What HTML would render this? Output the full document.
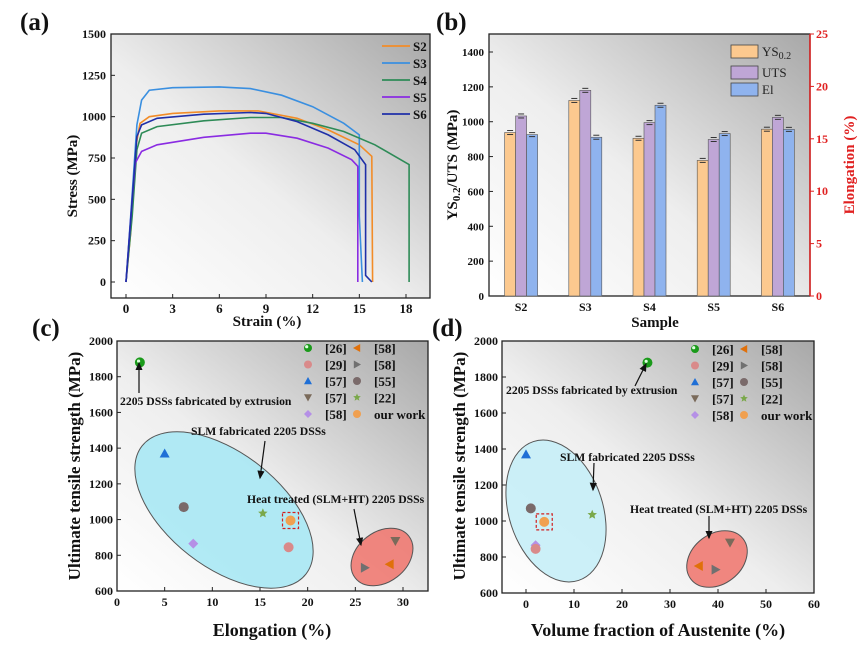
<!DOCTYPE html>
<html><head><meta charset="utf-8">
<style>
html,body{margin:0;padding:0;background:#fff;}
svg{display:block;font-family:"Liberation Serif",serif;}
</style></head>
<body>
<svg id="fig" width="861" height="646" viewBox="0 0 861 646" xmlns="http://www.w3.org/2000/svg">
<defs>
<linearGradient id="bg" x1="0" y1="1" x2="1" y2="0">
<stop offset="0" stop-color="#ffffff"/><stop offset="0.45" stop-color="#eeeeee"/><stop offset="1" stop-color="#a8a8a8"/>
</linearGradient>
<marker id="ah" markerWidth="8" markerHeight="8" refX="6" refY="4" orient="auto"><path d="M0,1 L7,4 L0,7 Z" fill="#111"/></marker>
</defs>
<g id="root"></g>
</svg>
<script>
// ---- Panel (a) data ----
const strainS2=[0,0.3,0.6,0.9,1.5,3,6,8.5,11,13,15,15.8,15.85];
const stressS2=[0,300,800,960,1000,1020,1035,1035,990,920,830,760,0];
const strainS3=[0,0.3,0.7,1,1.5,3,6,8,10,12,14,15,15,15.2];
const stressS3=[0,400,950,1100,1160,1175,1180,1170,1130,1060,960,890,400,0];
const strainS4=[0,0.4,0.7,1,2,5,8,10,12,14,16,18.2,18.2];
const stressS4=[0,400,800,900,940,975,995,995,960,910,830,710,0];
const strainS5=[0,0.4,0.6,1,2,5,8,9,11,13,14.5,14.9,14.9];
const stressS5=[0,500,720,790,830,875,900,900,870,810,740,700,0];
const strainS6=[0,0.4,0.7,1,2,5,8,9,11,13,14.7,15.4,15.4,15.8];
const stressS6=[0,500,880,950,990,1015,1025,1020,970,890,800,710,40,0];
const aTicksX=[0,3,6,9,12,15,18];
const aTicksY=[0,250,500,750,1000,1250,1500];
// ---- Panel (b) data ----
const samples=["S2","S3","S4","S5","S6"];
const ysVals=[938,1122,905,778,957];
const utsVals=[1033,1180,995,898,1025];
const elVals=[15.4,15.15,18.2,15.5,15.9];
const bTicksY=[0,200,400,600,800,1000,1200,1400];
const bTicksR=[0,5,10,15,20,25];
// ---- Panel (c)/(d) data ----
const refLabels=["[26]","[57]","[55]","[58]","[22]","our work","[29]","[58]r","[57]d","[58]l"];
const elongVals=[2.4,5,7,8,15.3,18.2,18,26,29.2,28.6];
const austVals=[25.3,0,1,2,13.8,3.8,2,39.5,42.5,36];
const utsRef=[1880,1370,1070,865,1035,995,845,730,880,750];
const cTicksX=[0,5,10,15,20,25,30];
const dTicksX=[0,10,20,30,40,50,60];
const cdTicksY=[600,800,1000,1200,1400,1600,1800,2000];

const NS="http://www.w3.org/2000/svg";
const root=document.getElementById('root');
function el(tag,attrs,parent,txt){const e=document.createElementNS(NS,tag);for(const k in attrs)e.setAttribute(k,attrs[k]);if(txt!==undefined)e.textContent=txt;(parent||root).appendChild(e);return e;}
function lin(d0,d1,r0,r1){return v=>r0+(v-d0)*(r1-r0)/(d1-d0);}

function frame(x0,y0,x1,y1,name){
  const g=el('g',{});
  
  
  el('rect',{x:x0,y:y0,width:x1-x0,height:y1-y0,fill:'url(#bg)',stroke:'#222','stroke-width':1.3},g);
  return g;
}
function txt(x,y,s,size,anchor,parent,extra){
  return el('text',Object.assign({x:x,y:y,'font-size':size,'font-weight':'bold','text-anchor':anchor||'start',fill:'#111'},extra||{}),parent,s);
}

[["(a)",20,30],["(b)",436,30],["(c)",32,336],["(d)",432,336]].forEach(p=>{
  const t=txt(p[1],p[2],p[0],25);
  
  
});

// ===== Panel (a) =====
(function(){
  const X0=111,X1=430,Y0=34,Y1=298;
  const xs=lin(0,18,126,406), ys=lin(0,1500,282,34);
  const g=frame(X0,Y0,X1,Y1,'panel-a-stress-strain');
  aTicksX.forEach(v=>{el('line',{x1:xs(v),x2:xs(v),y1:Y1,y2:Y1-4,stroke:'#222'},g);const t=txt(xs(v),313,String(v),13,'middle',g);
    });
  aTicksY.forEach(v=>{el('line',{x1:X0,x2:X0+4,y1:ys(v),y2:ys(v),stroke:'#222'},g);const t=txt(X0-5,ys(v)+4,String(v),12,'end',g);
    });
  const series=[["S2",strainS2,stressS2,"#f28c28"],["S3",strainS3,stressS3,"#3a8fe0"],["S4",strainS4,stressS4,"#2e8b57"],["S5",strainS5,stressS5,"#8a2be2"],["S6",strainS6,stressS6,"#1f2fa8"]];
  series.forEach((s,i)=>{
    const d=s[1].map((x,j)=>(j?'L':'M')+xs(x).toFixed(1)+','+ys(s[2][j]).toFixed(1)).join(' ');
    const p=el('path',{d:d,fill:'none',stroke:s[3],'stroke-width':1.6},g);
    
    
    const ly=46+i*17;
    const lg=el('g',{},g);
    
    
    el('line',{x1:382,x2:410,y1:ly,y2:ly,stroke:s[3],'stroke-width':1.8},lg);
    txt(413,ly+5,s[0],13,'start',lg);
  });
  const yt=txt(0,0,"Stress (MPa)",15,'middle',g,{transform:'translate(77,176) rotate(-90)'});
  
  const xt=txt(267,326,"Strain (%)",15,'middle',g);
  
})();

// ===== Panel (b) =====
(function(){
  const X0=489,X1=810,Y0=34,Y1=296;
  const ys=lin(0,1400,296,52), yr=lin(0,25,296,34);
  const g=frame(X0,Y0,X1,Y1,'panel-b-bar-chart');
  bTicksY.forEach(v=>{el('line',{x1:X0,x2:X0+4,y1:ys(v),y2:ys(v),stroke:'#222'},g);const t=txt(X0-5,ys(v)+4,String(v),11,'end',g);
    });
  el('line',{x1:X1,x2:X1,y1:Y0,y2:Y1,stroke:'#e02020','stroke-width':1.5},g);
  bTicksR.forEach(v=>{el('line',{x1:X1,x2:X1+4,y1:yr(v),y2:yr(v),stroke:'#e02020'},g);const t=txt(X1+6,yr(v)+4,String(v),12,'start',g,{fill:'#e02020'});
    });
  const step=(X1-X0)/5, bw=11;
  samples.forEach((s,i)=>{
    const cx=X0+(i+0.5)*step;
    const t=txt(cx,311,s,12,'middle',g);
    
    const bars=[[ys(ysVals[i]),'#fcc98f','ys'],[ys(utsVals[i]),'#bfa6d6','uts'],[yr(elVals[i]),'#8fb3ee','el']];
    bars.forEach((b,k)=>{
      const bx=cx-1.5*bw+k*bw;
      const r=el('rect',{x:bx,y:b[0],width:bw,height:Y1-b[0],fill:b[1],stroke:'#555','stroke-width':0.6},g);
      
      
      el('line',{x1:bx+bw/2-3,x2:bx+bw/2+3,y1:b[0]-2,y2:b[0]-2,stroke:'#333'},g);
      el('line',{x1:bx+bw/2-3,x2:bx+bw/2+3,y1:b[0]+2,y2:b[0]+2,stroke:'#333'},g);
    });
  });
  [["YS",'#fcc98f',45],["UTS",'#bfa6d6',66],["El",'#8fb3ee',83]].forEach((L,i)=>{
    const lg=el('g',{},g);
    
    
    el('rect',{x:731,y:L[2],width:27,height:13,fill:L[1],stroke:'#444','stroke-width':0.8},lg);
    const t=el('text',{x:762,y:L[2]+11,'font-size':13,fill:'#222'},lg,L[0]);
    if(i==0){el('tspan',{'font-size':10,dy:3},t,'0.2');}
  });
  const yt=el('text',{transform:'translate(457,165) rotate(-90)','font-size':15,'font-weight':'bold','text-anchor':'middle',fill:'#111'},g);
  
  yt.appendChild(document.createTextNode('YS'));
  el('tspan',{'font-size':11,dy:3},yt,'0.2');
  el('tspan',{dy:-3},yt,'/UTS (MPa)');
  const rt=txt(0,0,"Elongation (%)",15,'middle',g,{transform:'translate(854,165) rotate(-90)',fill:'#e02020'});
  
  const xt=txt(655,327,"Sample",15,'middle',g);
  
})();

// ===== Panels (c),(d) =====
const styles=[
 {shape:'ball',c:'#1a9a1a'},{shape:'tri',c:'#1f6fd6'},{shape:'circ',c:'#7a6a6a'},{shape:'diam',c:'#b590e6'},
 {shape:'star',c:'#7aa84a'},{shape:'circ',c:'#f0a050'},{shape:'circ',c:'#d98a8a'},{shape:'rtri',c:'#707070'},
 {shape:'dtri',c:'#7a6a5a'},{shape:'ltri',c:'#e0700a'}];
function marker(g,shape,x,y,c,s){
  s=s||5;let e;
  if(shape==='circ'||shape==='ball'){e=el('circle',{cx:x,cy:y,r:s,fill:c},g);if(shape==='ball')el('circle',{cx:x-1.3,cy:y-1.3,r:1.6,fill:'#dfffdf'},g);}
  else if(shape==='tri')e=el('path',{d:`M${x},${y-s} L${x+s},${y+s*0.8} L${x-s},${y+s*0.8}Z`,fill:c},g);
  else if(shape==='dtri')e=el('path',{d:`M${x},${y+s} L${x+s},${y-s*0.8} L${x-s},${y-s*0.8}Z`,fill:c},g);
  else if(shape==='rtri')e=el('path',{d:`M${x+s},${y} L${x-s*0.8},${y-s} L${x-s*0.8},${y+s}Z`,fill:c},g);
  else if(shape==='ltri')e=el('path',{d:`M${x-s},${y} L${x+s*0.8},${y-s} L${x+s*0.8},${y+s}Z`,fill:c},g);
  else if(shape==='diam')e=el('path',{d:`M${x},${y-s} L${x+s},${y} L${x},${y+s} L${x-s},${y}Z`,fill:c},g);
  else if(shape==='star'){let d='';for(let k=0;k<10;k++){const r=k%2?s*0.45:s;const a=-Math.PI/2+k*Math.PI/5;d+=(k?'L':'M')+(x+r*Math.cos(a)).toFixed(1)+','+(y+r*Math.sin(a)).toFixed(1);}e=el('path',{d:d+'Z',fill:c},g);}
  return e;
}
function scatterPanel(cfg){
  const g=frame(cfg.X0,341,cfg.X1,cfg.Y1,cfg.name);
  const xs=lin(cfg.d0,cfg.d1,cfg.r0,cfg.r1), ys=lin(600,2000,cfg.Y1,341);
  cfg.ticks.forEach(v=>{el('line',{x1:xs(v),x2:xs(v),y1:cfg.Y1,y2:cfg.Y1-4,stroke:'#222'},g);const t=txt(xs(v),cfg.Y1+15,String(v),12,'middle',g);
    });
  cdTicksY.forEach(v=>{el('line',{x1:cfg.X0,x2:cfg.X0+4,y1:ys(v),y2:ys(v),stroke:'#222'},g);const t=txt(cfg.X0-4,ys(v)+4,String(v),12,'end',g);
    });
  cfg.ell.forEach(E=>{const e=el('ellipse',{cx:E[0],cy:E[1],rx:E[2],ry:E[3],transform:`rotate(${E[4]} ${E[0]} ${E[1]})`,fill:E[5],stroke:'#555','stroke-width':1,'fill-opacity':0.9},g);
    });
  cfg.xv.forEach((xv,i)=>{
    const m=marker(g,styles[i].shape,xs(xv),ys(utsRef[i]),styles[i].c);
    
    
    if(refLabels[i]==='our work'){el('rect',{x:xs(xv)-8,y:ys(utsRef[i])-8,width:16,height:16,fill:'none',stroke:'#d02020','stroke-dasharray':'3,2','stroke-width':1.2},g);}
  });
  const col1=[0,6,1,8,3], col2=[9,7,2,4,5];
  const names1=["[26]","[29]","[57]","[57]","[58]"], names2=["[58]","[58]","[55]","[22]","our work"];
  for(let r=0;r<5;r++){
    const y=cfg.ly+r*16.5;
    const a=el('g',{},g);
    marker(a,styles[col1[r]].shape,cfg.lx,y,styles[col1[r]].c,4);
    txt(cfg.lx+17,y+5,names1[r],13,'start',a);
    const b=el('g',{},g);
    marker(b,styles[col2[r]].shape,cfg.lx+49,y,styles[col2[r]].c,4);
    txt(cfg.lx+66,y+5,names2[r],13,'start',b);
  }
  cfg.ann.forEach(A=>{
    const t=txt(A[0],A[1],A[2],11.7,'start',g);
    
    el('line',{x1:A[3],y1:A[4],x2:A[5],y2:A[6],stroke:'#111','stroke-width':1.2,'marker-end':'url(#ah)'},g);
  });
  const yt=txt(0,0,"Ultimate tensile strength (MPa)",17,'middle',g,{transform:`translate(${cfg.ytx},466) rotate(-90)`});
  
  const xt=txt(cfg.xtc,636,cfg.xtitle,18,'middle',g);
  
}
scatterPanel({name:'panel-c-uts-vs-elongation',X0:117,X1:428,Y1:591,d0:0,d1:30,r0:117,r1:403,ticks:cTicksX,xv:elongVals,
  ell:[[224,510,104,57,38,'#a8e8f4','slm-ellipse'],[382,557,34,25,-38,'#f07a72','ht-ellipse']],
  lx:308,ly:348,
  ann:[[120,405,"2205 DSSs  fabricated by extrusion",139,393,139,363],[191,435,"SLM fabricated 2205 DSSs",265,441,260,478],[247,503,"Heat treated (SLM+HT) 2205 DSSs",354,509,361,545]],
  ytx:80,xtc:272,xtitle:"Elongation (%)"});
scatterPanel({name:'panel-d-uts-vs-austenite',X0:502,X1:814,Y1:593,d0:0,d1:60,r0:526,r1:814,ticks:dTicksX,xv:austVals,
  ell:[[556,511,73,47,72,'#c6eef7','slm-ellipse'],[717,559,33,25,-38,'#f07a72','ht-ellipse']],
  lx:695,ly:349,
  ann:[[506,394,"2205 DSSs  fabricated by extrusion",635,386,646,364],[560,461,"SLM fabricated 2205 DSSs",594,463,593,490],[630,513,"Heat treated (SLM+HT) 2205 DSSs",709,516,709,538]],
  ytx:465,xtc:658,xtitle:"Volume fraction of Austenite (%)"});
</script>
</body></html>
